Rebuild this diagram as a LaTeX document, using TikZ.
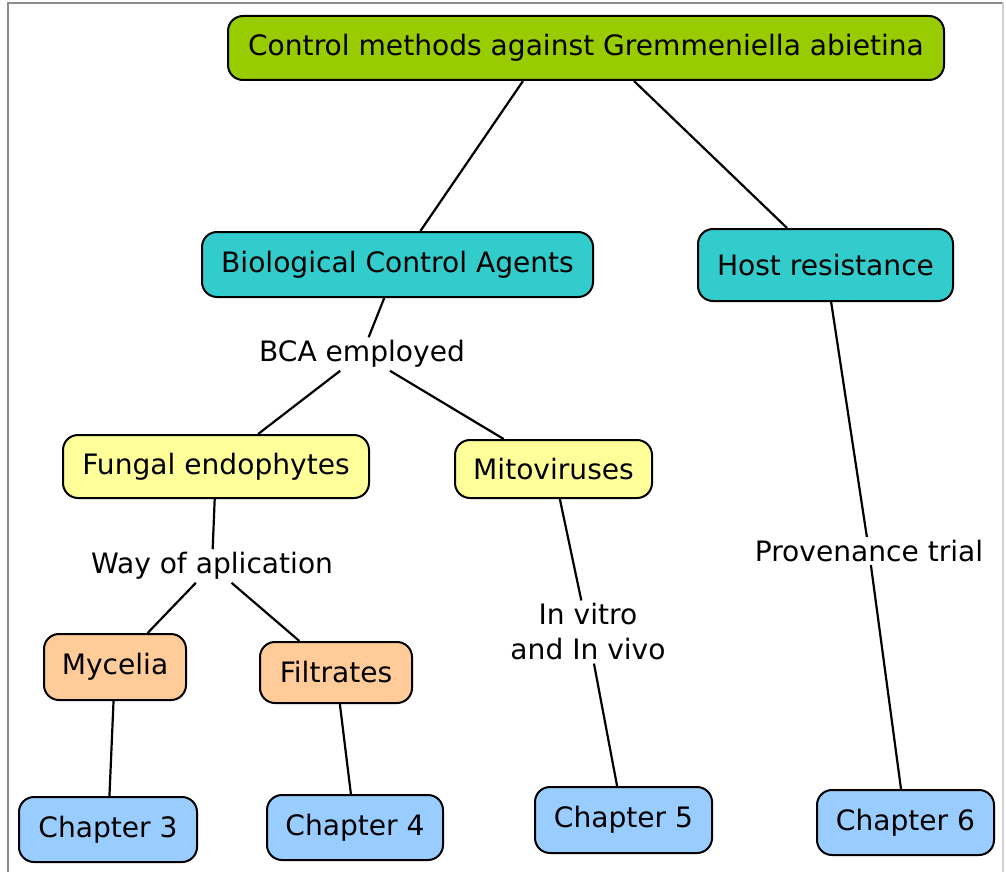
\documentclass[tikz,border=0pt]{standalone}
\usepackage{fontspec}
\setmainfont{DejaVu Sans}
\definecolor{cgreen}{HTML}{99CC00}
\definecolor{cteal}{HTML}{33CCCC}
\definecolor{cyellow}{HTML}{FFFF99}
\definecolor{corange}{HTML}{FFCC99}
\definecolor{cblue}{HTML}{99CCFF}
\definecolor{frame}{HTML}{8C8C8C}
\begin{document}
\begin{tikzpicture}[x=1pt,y=-1pt,
  box/.style={draw=black,line width=2pt,rounded corners=15pt,inner sep=0pt,
    font=\fontsize{28.1}{34}\selectfont,text=black},
  lbl/.style={inner sep=3pt,font=\fontsize{28.1}{35}\selectfont,align=center,text=black},
  conn/.style={draw=black,line width=2.2pt}]
\useasboundingbox (0,0) rectangle (1006,872);
\draw[frame,line width=2.5pt] (8,872) -- (8,3) -- (1003,3);
\draw[frame!40,line width=1.5pt] (1003,3) -- (1003,872);
% nodes
\node[box,fill=cgreen,minimum width=716pt,minimum height=64pt] (top) at (586,48) {Control methods against Gremmeniella abietina};
\node[box,fill=cteal,minimum width=391pt,minimum height=65pt] (bca) at (397.5,264.5) {Biological Control Agents};
\node[box,fill=cteal,minimum width=255pt,minimum height=72pt] (host) at (825.5,265) {Host resistance};
\node[box,fill=cyellow,minimum width=306pt,minimum height=63pt] (fung) at (216,466.5) {Fungal endophytes};
\node[box,fill=cyellow,minimum width=197pt,minimum height=58pt] (mito) at (553.5,469) {Mitoviruses};
\node[box,fill=corange,minimum width=142pt,minimum height=66pt] (myc) at (115,667) {Mycelia};
\node[box,fill=corange,minimum width=152pt,minimum height=61pt] (filt) at (336,672.5) {Filtrates};
\node[box,fill=cblue,minimum width=178pt,minimum height=65pt] (ch3) at (108,829.5) {Chapter 3};
\node[box,fill=cblue,minimum width=176pt,minimum height=65pt] (ch4) at (355,827.5) {Chapter 4};
\node[box,fill=cblue,minimum width=177pt,minimum height=66pt] (ch5) at (623.5,820) {Chapter 5};
\node[box,fill=cblue,minimum width=177pt,minimum height=65pt] (ch6) at (905.5,822.5) {Chapter 6};
% labels
\node[lbl] (l1) at (362,354) {BCA employed};
\node[lbl] (l2) at (212,566) {Way of aplication};
\node[lbl] (l3) at (588,632) {In vitro\\and In vivo};
\node[lbl] (l4) at (869,551) {Provenance trial};
% connectors
\draw[conn] ([xshift=-63pt]top.south) -- (bca);
\draw[conn] ([xshift=48pt]top.south) -- (host);
\draw[conn] (bca) -- (l1);
\draw[conn] (l1) -- (fung);
\draw[conn] (l1) -- (mito);
\draw[conn] (fung) -- (l2);
\draw[conn] (l2) -- (myc);
\draw[conn] (l2) -- (filt);
\draw[conn] (myc) -- (ch3);
\draw[conn] (filt) -- (ch4);
\draw[conn] (mito) -- (l3);
\draw[conn] (l3) -- (ch5);
\draw[conn] (host) -- (l4);
\draw[conn] (l4) -- (ch6);
\end{tikzpicture}
\end{document}
